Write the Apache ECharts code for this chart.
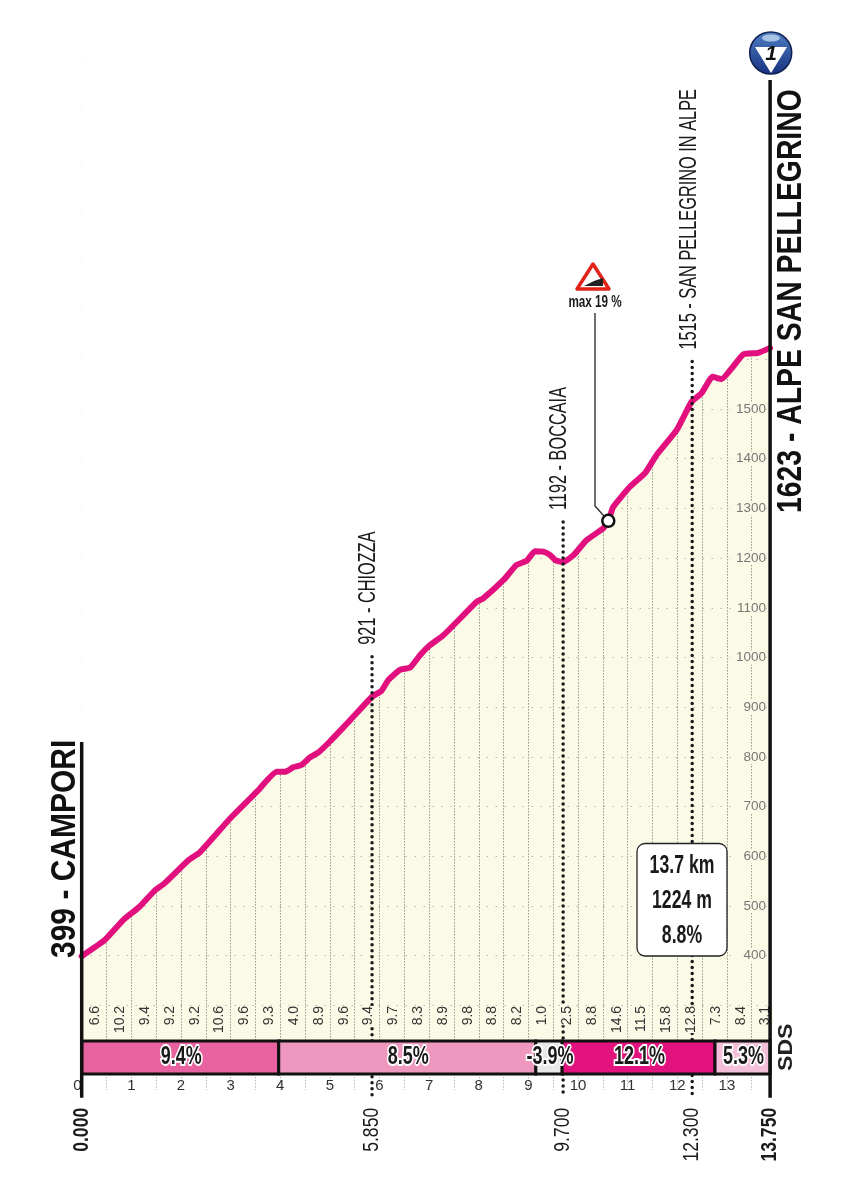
<!DOCTYPE html>
<html>
<head>
<meta charset="utf-8">
<style>html,body{margin:0;padding:0;background:#fff}#chart{width:857px;height:1200px}</style>
<script src="https://cdn.jsdelivr.net/npm/echarts@6/dist/echarts.min.js"></script>
</head>
<body>
<div id="chart"></div>
<script>
// profile
var profileKm = [0,0.47,0.84,1.17,1.48,1.65,2.15,2.38,2.99,3.53,3.93,4.10,4.26,4.43,4.60,4.77,5.0,5.41,5.85,6.04,6.18,6.41,6.62,6.82,7.02,7.29,7.66,7.96,8.09,8.50,8.76,8.97,9.13,9.30,9.44,9.54,9.70,9.91,10.17,10.51,10.61,10.71,11.05,11.35,11.58,11.99,12.29,12.49,12.71,12.89,13.13,13.33,13.63,13.87];
var profileElev = [399,432,472,499,532,544,592,608,676,730,770,770,779,784,799,809,831,874,921,933,955,975,980,1005,1025,1045,1082,1112,1119,1156,1186,1195,1214,1213,1206,1196,1192,1206,1236,1260,1275,1303,1344,1371,1407,1458,1515,1532,1565,1560,1586,1610,1613,1623];

var halfKmGrades = ['6.6','10.2','9.4','9.2','9.2','10.6','9.6','9.3','4.0','8.9','9.6','9.4','9.7','8.3','8.9','9.8','8.8','8.2','1.0','2.5','8.8','14.6','11.5','15.8','12.8','7.3','8.4','3.1'];

var sectionEdges = [0,3.97,9.15,9.68,12.76,13.87];
var sectionLabels = ['9.4%','8.5%','-3.9%','12.1%','5.3%'];
var sectionColors = ['#e8629f','#ee98bf','#e8e8e8','#e2137f','#f4bfd8'];

var stationKm = [5.85,9.7,12.3];
var stationElev = [921,1192,1515];
var stationNames = ['921 - CHIOZZA','1192 - BOCCAIA','1515 - SAN PELLEGRINO IN ALPE'];

var distKm = [0,5.85,9.7,12.3,13.87];
var distLabels = ['0.000','5.850','9.700','12.300','13.750'];
var distBold = [true,false,false,false,true];

var endKm = 13.87;
var poleKm = [0,13.87];
var poleTop = [830,2162];
var poleBase = 114;

var steepKm = 10.61;
var steepElev = 1275;

// no condensed face is installed, so the text is squeezed with scaleX
var face = '"Liberation Sans",sans-serif';
var ink = '#1a1a1a';
var cream = '#fafae6';

var profile = [];
for (var i = 0; i < profileKm.length; i++) profile.push([profileKm[i], profileElev[i]]);

var gradeData = [];
for (var i = 0; i < halfKmGrades.length; i++) gradeData.push([i * 0.5 + 0.27, 299, halfKmGrades[i]]);

var sectionData = [];
for (var i = 0; i < sectionLabels.length; i++) sectionData.push([sectionEdges[i], sectionEdges[i + 1], i]);

function vtext(x, y, str, size, weight, fill, align, squeeze) {
	return {
		type: 'text', x: x, y: y, rotation: Math.PI / 2, scaleX: squeeze || 1,
		style: {text: str, fontSize: size, fontWeight: weight, fontFamily: face, fill: fill, align: align, verticalAlign: 'middle'}
	};
}
function htext(x, y, str, size, squeeze) {
	return {
		type: 'text', x: x, y: y, scaleX: squeeze,
		style: {text: str, fontSize: size, fontWeight: 'bold', fontFamily: face, fill: ink, align: 'center', verticalAlign: 'middle'}
	};
}

var decorations = [
	vtext(65, 958, '399 - CAMPORI', 35, 'bold', '#111', 'left', 0.857),
	vtext(791, 513, '1623 - ALPE SAN PELLEGRINO', 35, 'bold', '#111', 'left', 0.81),
	vtext(786, 1071, 'SDS', 21, 'bold', '#222', 'left', 1.1),
	// climb warning sign
	{type: 'polygon', shape: {points: [[593, 264], [577, 289], [609, 289]]}, style: {fill: '#fff', stroke: '#e2231a', lineWidth: 3.5, lineJoin: 'round'}},
	{type: 'polygon', shape: {points: [[584, 286], [603, 286], [603, 278], [594, 281]]}, style: {fill: '#222'}},
	htext(595, 303, 'max 19 %', 16, 0.73),
	// stats box
	{type: 'rect', shape: {x: 637, y: 843.5, width: 90, height: 112.5, r: 8}, style: {fill: '#fff', stroke: '#222', lineWidth: 1.3}},
	htext(682, 866, '13.7 km', 26, 0.68),
	htext(682, 901, '1224 m', 26, 0.68),
	htext(682, 936, '8.8%', 26, 0.68),
	// category badge
	{
		type: 'circle', shape: {cx: 770.7, cy: 53, r: 21},
		style: {stroke: '#10204f', lineWidth: 1.5, fill: new echarts.graphic.LinearGradient(0, 0, 0, 1, [{offset: 0, color: '#4f7fc4'}, {offset: 1, color: '#16307f'}])}
	},
	{type: 'polygon', shape: {points: [[755, 47], [787, 47], [771, 73]]}, style: {fill: '#fff'}},
	{type: 'ellipse', shape: {cx: 771, cy: 38, rx: 9, ry: 3.5}, style: {fill: '#a9c3e6'}},
	{type: 'text', x: 771, y: 54, style: {text: '1', fontSize: 21, fontWeight: 'bold', fontStyle: 'italic', fontFamily: face, fill: '#111', align: 'center', verticalAlign: 'middle'}}
];
decorations.forEach(function (d, i) { d.z = 20 + i; });

var chart = echarts.init(document.getElementById('chart'));
chart.setOption({
	animation: false,
	backgroundColor: '#fff',
	grid: [
		{left: 81.7, right: 86.9, top: 61.1, bottom: 144.9, show: true, backgroundColor: cream, borderWidth: 0},
		{left: 81.7, right: 86.9, top: 1041, height: 33}
	],
	xAxis: [
		{
			type: 'value', gridIndex: 0, min: 0, max: endKm, interval: 0.5,
			axisLine: {show: false}, axisTick: {show: false}, axisLabel: {show: false},
			splitLine: {show: true, showMinLine: false, showMaxLine: false, lineStyle: {color: '#98988a', width: 1, type: [1.5, 1.5]}}
		},
		{
			type: 'value', gridIndex: 1, min: 0, max: endKm, interval: 0.5,
			axisLine: {show: false},
			axisTick: {show: true, length: 16, lineStyle: {color: '#bbbbbb', width: 1, type: [1.5, 1.5]}},
			splitLine: {show: false},
			axisLabel: {
				margin: 4, fontSize: 15, fontFamily: face, color: '#333', alignMinLabel: 'right', hideOverlap: false, showMaxLabel: false,
				formatter: function (v) { return v % 1 === 0 ? String(v) : ''; }
			}
		}
	],
	yAxis: [
		{
			type: 'value', gridIndex: 0, position: 'right', min: 200, max: 2200, interval: 100,
			axisLine: {show: false}, axisTick: {show: false},
			splitLine: {show: true, lineStyle: {color: '#98988a', width: 1, type: [1, 8]}},
			axisLabel: {
				inside: true, margin: 4, fontSize: 13.5, fontFamily: face, color: '#777',
				backgroundColor: cream, padding: [0, 0, 0, 6],
				formatter: function (v) { return v >= 400 && v <= 1500 ? String(v) : ''; }
			}
		},
		{type: 'value', gridIndex: 1, min: 0, max: 1, show: false}
	],
	series: [
		{
			// white sheet above the road hides the grid over the profile
			type: 'line', name: 'profile', data: profile, xAxisIndex: 0, yAxisIndex: 0, z: 2, clip: false,
			symbol: 'none', smooth: 0.15,
			lineStyle: {color: '#e2107e', width: 6, cap: 'round', join: 'round'},
			areaStyle: {color: '#fff', opacity: 1, origin: 'end'}
		},
		{
			type: 'custom', name: 'stations', xAxisIndex: 0, yAxisIndex: 0, z: 3,
			data: stationKm.map(function (k, i) { return [k, stationElev[i], stationNames[i]]; }),
			renderItem: function (params, api) {
				var p = api.coord([api.value(0), api.value(1)]);
				var b = api.coord([api.value(0), poleBase]);
				return {
					type: 'group',
					children: [
						{type: 'line', shape: {x1: p[0], y1: p[1] - 40, x2: p[0], y2: b[1]}, style: {stroke: ink, lineWidth: 3.5, lineDash: [0, 6], lineCap: 'round'}},
						vtext(p[0] - 3, p[1] - 52, stationNames[params.dataIndex], 23, 'normal', ink, 'left', 0.71)
					]
				};
			}
		},
		{
			type: 'custom', name: 'grades', xAxisIndex: 0, yAxisIndex: 0, z: 4,
			data: gradeData,
			renderItem: function (params, api) {
				var p = api.coord([api.value(0), api.value(1)]);
				var t = vtext(p[0], p[1], halfKmGrades[params.dataIndex], 15.5, 'normal', '#333', 'right', 0.9);
				t.style.backgroundColor = cream;
				return t;
			}
		},
		{
			type: 'custom', name: 'sections', xAxisIndex: 1, yAxisIndex: 1, z: 5,
			data: sectionData,
			renderItem: function (params, api) {
				var a = api.coord([api.value(0), 1]);
				var b = api.coord([api.value(1), 0]);
				var i = params.dataIndex;
				var label = htext((a[0] + b[0]) / 2 + 1, (a[1] + b[1]) / 2, sectionLabels[i], 25, 0.72);
				label.z2 = 50;
				label.style.stroke = '#fff';
				label.style.lineWidth = 4;
				return {
					type: 'group',
					children: [
						{type: 'rect', shape: {x: a[0], y: a[1], width: b[0] - a[0], height: b[1] - a[1]}, style: {fill: sectionColors[i], stroke: '#111', lineWidth: 3}},
						label
					]
				};
			}
		},
		{
			type: 'custom', name: 'poles', xAxisIndex: 0, yAxisIndex: 0, z: 6,
			data: poleKm.map(function (k, i) { return [k, poleTop[i]]; }),
			renderItem: function (params, api) {
				var t = api.coord([api.value(0), api.value(1)]);
				var b = api.coord([api.value(0), poleBase]);
				return {type: 'line', shape: {x1: t[0], y1: t[1], x2: t[0], y2: b[1]}, style: {stroke: '#111', lineWidth: 3.5}};
			}
		},
		{
			type: 'custom', name: 'distances', xAxisIndex: 0, yAxisIndex: 0, z: 6,
			data: distKm.map(function (k) { return [k, 94]; }),
			renderItem: function (params, api) {
				var p = api.coord([api.value(0), api.value(1)]);
				var i = params.dataIndex;
				return vtext(p[0], p[1], distLabels[i], 22, distBold[i] ? 'bold' : 'normal', ink, 'right', 0.8);
			}
		},
		{
			type: 'custom', name: 'steepest', xAxisIndex: 0, yAxisIndex: 0, z: 7,
			data: [[steepKm, steepElev]],
			renderItem: function (params, api) {
				var p = api.coord([api.value(0), api.value(1)]);
				return {
					type: 'group',
					children: [
						{type: 'polyline', shape: {points: [[595, 313], [595, 506], [p[0], p[1]]]}, style: {stroke: '#222', lineWidth: 1.3, fill: null}},
						{type: 'circle', shape: {cx: p[0], cy: p[1], r: 6}, style: {fill: '#fff', stroke: '#111', lineWidth: 2.5}}
					]
				};
			}
		}
	],
	graphic: decorations
});
</script>
</body>
</html>
